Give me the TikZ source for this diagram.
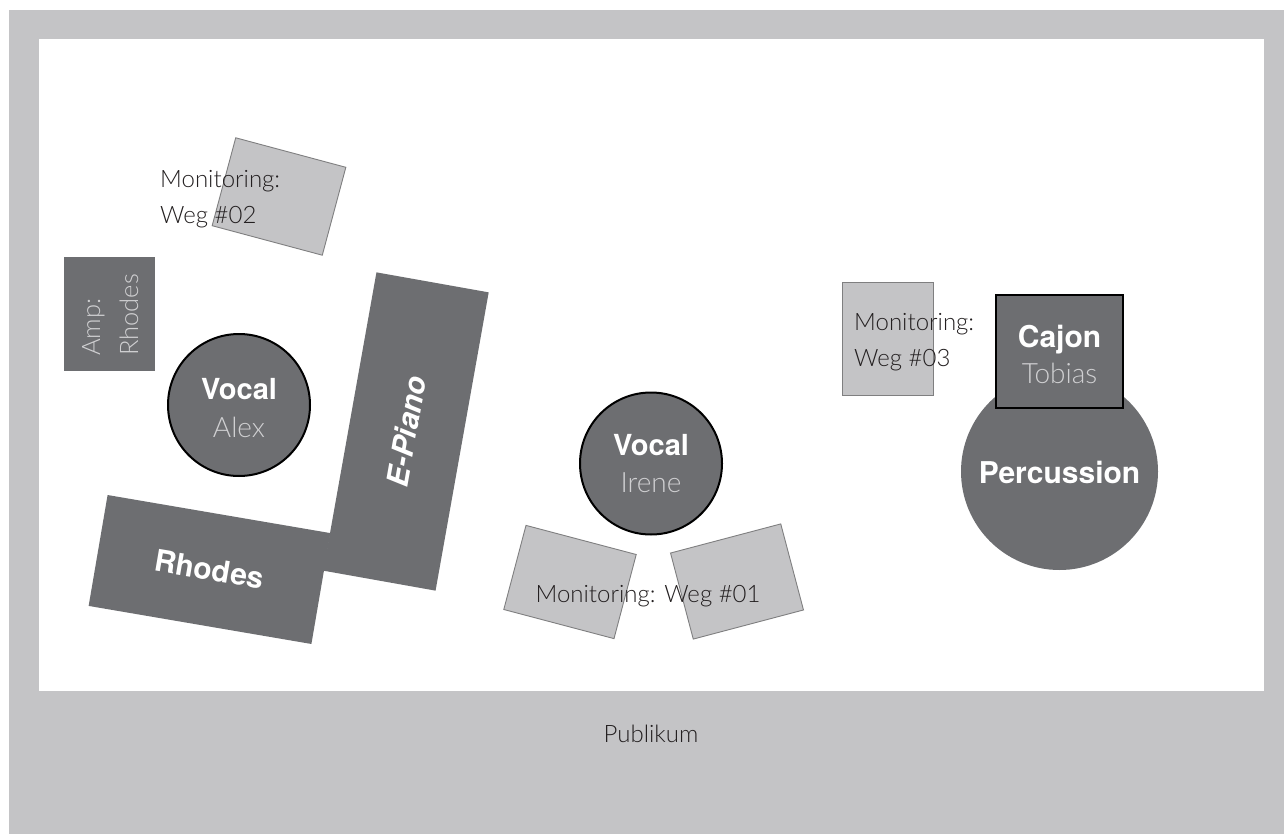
\documentclass[tikz,border=0pt]{standalone}
\usepackage{fontspec}
\setmainfont{TeX Gyre Heros}
\newfontfamily\lightfont{Lato Light}
\definecolor{bgray}{HTML}{C4C4C6}
\definecolor{dgray}{HTML}{6D6E71}
\definecolor{mgray}{HTML}{C4C4C6}
\definecolor{medge}{HTML}{7F7F80}
\definecolor{namecol}{HTML}{D0D0D2}
\definecolor{txt}{HTML}{231F20}
\tikzset{
  monitor/.style={draw=medge, fill=mgray, line width=0.9pt, inner sep=0pt},
  darkbox/.style={fill=dgray, inner sep=0pt},
  singer/.style={circle, draw=black, line width=2pt, fill=dgray, minimum size=142pt, inner sep=0pt},
  boldtxt/.style={text=white, inner sep=0pt, font=\bfseries\fontsize{29}{35}\selectfont},
  nametxt/.style={text=namecol, inner sep=0pt, font=\lightfont\fontsize{28}{33}\selectfont},
  montxt/.style={text=txt, inner sep=0pt, font=\lightfont\fontsize{24}{36}\selectfont},
  amptxt/.style={text=namecol, inner sep=0pt, font=\lightfont\fontsize{25.5}{36}\selectfont, rotate=90, anchor=base west},
}
\begin{document}
\begin{tikzpicture}[x=1pt,y=1pt]
\useasboundingbox (0,0) rectangle (1284,-834);
\fill[white] (0,0) rectangle (1284,-834);
\fill[bgray] (9,-10) rectangle (1284,-834);
\fill[white] (39,-39) rectangle (1264,-691);

% Monitoring Weg #02
\node[monitor, minimum width=114pt, minimum height=91pt, rotate=-15] (mon2) at (279,-196.5) {};
\node[montxt, anchor=base west] (mon2a) at (160,-188) {Monitoring:};
\node[montxt, anchor=base west] (mon2b) at (160,-224) {Weg \#02};

% Amp Rhodes
\node[darkbox, minimum width=91pt, minimum height=113.5pt] (amp) at (109.5,-313.75) {};
\node[amptxt] (ampa) at (100,-356) {Amp:};
\node[amptxt] (ampb) at (138,-356) {Rhodes};

% Vocal Alex
\node[singer] (alex) at (239,-405) {};
\node[boldtxt, anchor=base] (alexa) at (239,-399) {Vocal};
\node[nametxt, anchor=base] (alexb) at (239,-437) {Alex};

% Rhodes
\node[darkbox, minimum width=226pt, minimum height=112.5pt, rotate=-9.7, text=white, font=\bfseries\fontsize{30}{36}\selectfont] (rhodes) at (209.5,-569.5) {Rhodes};

% E-Piano
\node[darkbox, minimum width=303pt, minimum height=114pt, rotate=79.9, text=white, font=\bfseries\itshape\fontsize{30}{36}\selectfont] (epiano) at (406,-431.5) {E-Piano};

% Vocal Irene
\node[singer] (irene) at (651,-463.5) {};
\node[boldtxt, anchor=base] (irenea) at (651,-455) {Vocal};
\node[nametxt, anchor=base] (ireneb) at (651,-492) {Irene};

% Monitoring Weg #01
\node[monitor, minimum width=114pt, minimum height=87pt, rotate=-14.8] (mon1l) at (570,-582) {};
\node[monitor, minimum width=114pt, minimum height=89pt, rotate=14.8] (mon1r) at (737,-581.5) {};
\node[montxt, anchor=base] (mon1t) at (648,-602) {Monitoring: Weg \#01};

% Monitoring Weg #03
\node[monitor, minimum width=91pt, minimum height=113pt] (mon3) at (887.5,-338.5) {};
\node[montxt, anchor=base west] (mon3a) at (854,-330) {Monitoring:};
\node[montxt, anchor=base west] (mon3b) at (854,-366.5) {Weg \#03};

% Percussion
\node[circle, fill=dgray, minimum size=197pt, inner sep=0pt] (perc) at (1059.5,-471.5) {};
\node[boldtxt, font=\bfseries\fontsize{30}{36}\selectfont, anchor=base] (perct) at (1059.5,-483) {Percussion};

% Cajon
\node[darkbox, draw=black, line width=1.2pt, minimum width=127pt, minimum height=113pt] (cajon) at (1059.5,-351.5) {};
\node[boldtxt, font=\bfseries\fontsize{30}{36}\selectfont, anchor=base] (cajona) at (1059.5,-347) {Cajon};
\node[nametxt, anchor=base] (cajonb) at (1059.5,-383) {Tobias};

% Publikum
\node[montxt, anchor=base] (pub) at (651,-742) {Publikum};
\end{tikzpicture}
\end{document}
